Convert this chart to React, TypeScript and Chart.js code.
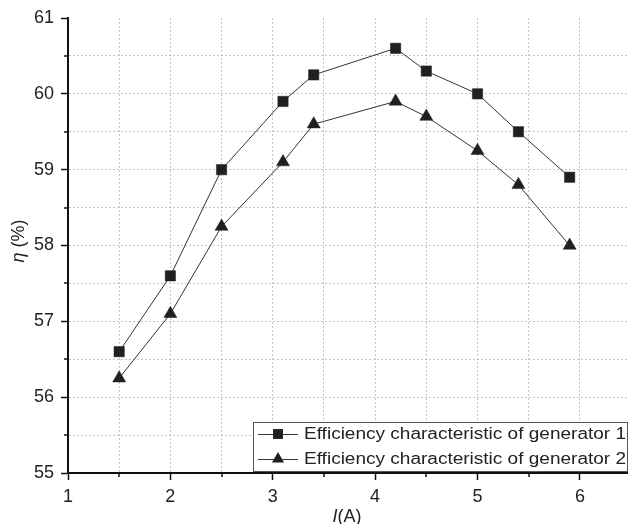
import React, { useEffect, useRef } from "react";
import { Chart, registerables } from "chart.js";

Chart.register(...registerables);

const currentA = [1.5, 2, 2.5, 3.1, 3.4, 4.2, 4.5, 5, 5.4, 5.9];
const gen1Eff = [56.6, 57.6, 59.0, 59.9, 60.25, 60.6, 60.3, 60.0, 59.5, 58.9];
const gen2Eff = [56.25, 57.1, 58.25, 59.1, 59.6, 59.9, 59.7, 59.25, 58.8, 58.0];
const seriesLabels = [
  "Efficiency characteristic of generator 1",
  "Efficiency characteristic of generator 2",
];
const xTicks = [1, 1.5, 2, 2.5, 3, 3.5, 4, 4.5, 5, 5.5, 6];
const yTicks = [55, 55.5, 56, 56.5, 57, 57.5, 58, 58.5, 59, 59.5, 60, 60.5, 61];

const FONT = "'Liberation Sans', Arial, sans-serif";
const MARK = "#231f20";
const isMajor = (v: number) => Number.isInteger(v);

function drawMarker(ctx: CanvasRenderingContext2D, style: string, x: number, y: number, r: number) {
  ctx.save();
  ctx.fillStyle = MARK;
  ctx.beginPath();
  if (style === "rect") {
    const s = Math.SQRT1_2 * r;
    ctx.rect(x - s, y - s, 2 * s, 2 * s);
  } else {
    const a = (2 * Math.PI) / 3;
    ctx.moveTo(x, y - r);
    ctx.lineTo(x + Math.sin(a) * r, y - Math.cos(a) * r);
    ctx.lineTo(x + Math.sin(2 * a) * r, y - Math.cos(2 * a) * r);
    ctx.closePath();
  }
  ctx.fill();
  ctx.restore();
}

function drawMixed(ctx: CanvasRenderingContext2D, parts: { t: string; f: string }[], cx: number, cy: number) {
  let total = 0;
  parts.forEach((p) => { ctx.font = p.f; total += ctx.measureText(p.t).width; });
  let x = cx - total / 2;
  ctx.textAlign = "left";
  ctx.textBaseline = "middle";
  parts.forEach((p) => {
    ctx.font = p.f;
    ctx.fillText(p.t, x, cy);
    x += ctx.measureText(p.t).width;
  });
}

const overlayPlugin = {
  id: "overlay",
  afterDraw(chart: any) {
    const ctx: CanvasRenderingContext2D = chart.ctx;
    const area = chart.chartArea;
    const xs = chart.scales.x;
    const ys = chart.scales.y;
    ctx.save();
    // minor tick marks
    ctx.strokeStyle = "#111";
    ctx.lineWidth = 1.5;
    ctx.beginPath();
    xTicks.filter((v) => !isMajor(v)).forEach((v) => {
      const px = Math.round(xs.getPixelForValue(v));
      ctx.moveTo(px, area.bottom);
      ctx.lineTo(px, area.bottom + 4);
    });
    yTicks.filter((v) => !isMajor(v)).forEach((v) => {
      const py = Math.round(ys.getPixelForValue(v));
      ctx.moveTo(area.left, py);
      ctx.lineTo(area.left - 4, py);
    });
    ctx.stroke();

    // axis titles
    ctx.fillStyle = "#222";
    drawMixed(ctx, [
      { t: "I", f: `italic 18px ${FONT}` },
      { t: "(A)", f: `18px ${FONT}` },
    ], 347, 517);
    ctx.save();
    ctx.translate(19, 241);
    ctx.rotate(-Math.PI / 2);
    drawMixed(ctx, [
      { t: "η", f: `italic 18px ${FONT}` },
      { t: " (%)", f: `18px ${FONT}` },
    ], 0, 0);
    ctx.restore();

    // legend
    const lx = 253, ly = 422, lw = area.right - 1 - 253, lh = 49;
    ctx.fillStyle = "#fff";
    ctx.fillRect(lx, ly, lw, lh);
    ctx.strokeStyle = "#555";
    ctx.lineWidth = 1;
    ctx.strokeRect(lx + 0.5, ly + 0.5, lw, lh);
    const styles = ["rect", "triangle"];
    const rows = [434, 459];
    chart.data.datasets.forEach((ds: any, i: number) => {
      const y = rows[i];
      ctx.strokeStyle = "#333";
      ctx.lineWidth = 1;
      ctx.beginPath();
      ctx.moveTo(258, y + 0.5);
      ctx.lineTo(298, y + 0.5);
      ctx.stroke();
      drawMarker(ctx, styles[i], 278, y, 7);
      ctx.fillStyle = "#222";
      ctx.font = `16px ${FONT}`;
      ctx.textAlign = "left";
      ctx.textBaseline = "middle";
      const w = ctx.measureText(ds.label).width;
      const target = 322;
      ctx.save();
      ctx.translate(304, y + 1);
      ctx.scale(target / w, 1);
      ctx.fillText(ds.label, 0, 0);
      ctx.restore();
    });
    ctx.restore();
  },
};

export default function App() {
  const ref = useRef<HTMLCanvasElement>(null);
  useEffect(() => {
    const gridColor = (c: any, max: number) =>
      c.tick && Math.abs(c.tick.value - max) < 1e-9 ? "rgba(0,0,0,0)" : "#c4c4c4";
    const tickColor = (c: any) => (c.tick && isMajor(c.tick.value) ? "#111" : "rgba(0,0,0,0)");
    const chart = new Chart(ref.current!, {
      type: "line",
      data: {
        datasets: [
          {
            label: seriesLabels[0],
            data: currentA.map((x, i) => ({ x, y: gen1Eff[i] })),
            borderColor: "#333",
            borderWidth: 1,
            pointStyle: "rect",
            pointRadius: 7.3,
            pointBackgroundColor: MARK,
            pointBorderColor: MARK,
            pointBorderWidth: 0.5,
            tension: 0,
          },
          {
            label: seriesLabels[1],
            data: currentA.map((x, i) => ({ x, y: gen2Eff[i] })),
            borderColor: "#333",
            borderWidth: 1,
            pointStyle: "triangle",
            pointRadius: 7.5,
            pointBackgroundColor: MARK,
            pointBorderColor: MARK,
            pointBorderWidth: 0.5,
            tension: 0,
          },
        ],
      },
      options: {
        responsive: false,
        animation: false,
        devicePixelRatio: 1,
        layout: { autoPadding: false, padding: { top: 18, right: 0, left: 0, bottom: 0 } },
        plugins: { legend: { display: false }, tooltip: { enabled: false } },
        scales: {
          x: {
            type: "linear",
            min: 1,
            max: 6.47,
            afterBuildTicks: (s: any) => { s.ticks = xTicks.map((v) => ({ value: v })); },
            afterFit: (s: any) => { s.height = 51; },
            ticks: {
              autoSkip: false,
              maxRotation: 0,
              padding: 6,
              color: "#222",
              font: { family: FONT, size: 18 },
              callback: (v: any) => (isMajor(v) ? String(v) : ""),
            },
            grid: {
              color: (c: any) => gridColor(c, 999),
              lineWidth: 1,
              tickColor,
              tickLength: 7,
              tickWidth: 1.5,
              tickBorderDash: [],
            },
            border: { display: true, color: "#111", width: 2, dash: [2, 2] },
          },
          y: {
            type: "linear",
            min: 55,
            max: 61,
            afterBuildTicks: (s: any) => { s.ticks = yTicks.map((v) => ({ value: v })); },
            afterFit: (s: any) => { s.width = 68; },
            ticks: {
              autoSkip: false,
              padding: 7,
              color: "#222",
              font: { family: FONT, size: 18 },
              callback: (v: any) => (isMajor(v) ? String(v) : ""),
            },
            grid: {
              color: (c: any) => gridColor(c, 61),
              lineWidth: 1,
              tickColor,
              tickLength: 7,
              tickWidth: 1.5,
              tickBorderDash: [],
            },
            border: { display: true, color: "#111", width: 2, dash: [2, 2] },
          },
        },
      },
      plugins: [overlayPlugin],
    } as any);
    return () => chart.destroy();
  }, []);
  return (
    <div style={{ position: "absolute", left: 0, top: 0, width: 628, height: 524, background: "#fff" }}>
      <canvas ref={ref} width={628} height={524} />
    </div>
  );
}
